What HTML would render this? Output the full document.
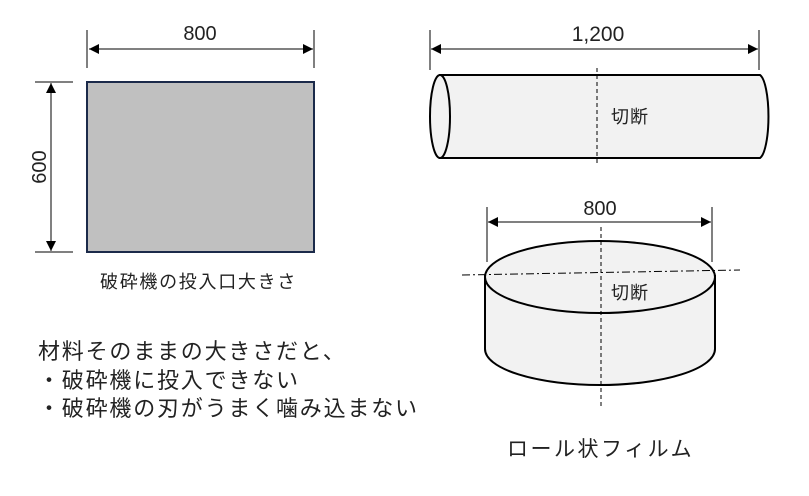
<!DOCTYPE html>
<html><head><meta charset="utf-8"><style>
body{margin:0;background:#fff;}
svg text{font-family:"Liberation Sans","Noto Sans CJK JP",sans-serif;fill:#222;}
</style></head><body>
<svg width="809" height="491" viewBox="0 0 809 491" xmlns="http://www.w3.org/2000/svg">
<defs><marker id="a" viewBox="0 0 10 10" refX="10" refY="5" markerWidth="10" markerHeight="10" markerUnits="userSpaceOnUse" orient="auto-start-reverse"><path d="M0,0L10,5L0,10z" fill="#000"/></marker></defs>
<g stroke="#000" stroke-width="1">
<line x1="87" y1="30" x2="87" y2="68"/><line x1="314" y1="30" x2="314" y2="68"/>
<line x1="89" y1="49" x2="313" y2="49" marker-start="url(#a)" marker-end="url(#a)"/>
<line x1="35" y1="82" x2="73" y2="82"/><line x1="35" y1="252" x2="73" y2="252"/>
<line x1="51" y1="83" x2="51" y2="251" marker-start="url(#a)" marker-end="url(#a)"/>
</g>
<rect x="87" y="82" width="227" height="170" fill="#c0c0c0" stroke="#1b2a4a" stroke-width="2"/>
<text x="200" y="40" font-size="20" text-anchor="middle">800</text>
<text transform="translate(46,167) rotate(-90)" font-size="20" text-anchor="middle">600</text>
<text x="100" y="288" font-size="18" letter-spacing="1.7">破砕機の投入口大きさ</text>
<g stroke="#000" stroke-width="1">
<line x1="430" y1="30" x2="430" y2="70"/><line x1="759" y1="30" x2="759" y2="70"/>
<line x1="431" y1="49" x2="758" y2="49" marker-start="url(#a)" marker-end="url(#a)"/>
</g>
<path d="M440,75 L760,75 A10,42 0 0 1 760,158 L440,158 Z" fill="#f2f2f2" stroke="#000" stroke-width="2"/>
<ellipse cx="440" cy="116.5" rx="10" ry="41.5" fill="#f2f2f2" stroke="#000" stroke-width="2"/>
<line x1="597" y1="68" x2="597" y2="166" stroke="#000" stroke-dasharray="4,3"/>
<text x="611" y="123" font-size="18" letter-spacing="1">切断</text>
<text x="598" y="41" font-size="21" text-anchor="middle">1,200</text>
<g stroke="#000" stroke-width="1">
<line x1="487" y1="207" x2="487" y2="262"/><line x1="712" y1="207" x2="712" y2="262"/>
<line x1="488" y1="222" x2="711" y2="222" marker-start="url(#a)" marker-end="url(#a)"/>
</g>
<path d="M485,276 L485,349 A115,36 0 0 0 715,349 L715,276 Z" fill="#f2f2f2" stroke="#000" stroke-width="2"/>
<ellipse cx="600" cy="277" rx="115" ry="36" fill="#f2f2f2" stroke="#000" stroke-width="2"/>
<line x1="462" y1="275" x2="740" y2="270" stroke="#000" stroke-dasharray="8,3,2,3"/>
<line x1="601" y1="227" x2="601" y2="408" stroke="#000" stroke-dasharray="4,3"/>
<text x="611" y="299" font-size="18" letter-spacing="1">切断</text>
<text x="600" y="215" font-size="20" text-anchor="middle">800</text>
<text x="38" y="359" font-size="22" letter-spacing="1.8">材料そのままの大きさだと、</text>
<text x="38" y="388" font-size="22" letter-spacing="1.8">・破砕機に投入できない</text>
<text x="38" y="416" font-size="22" letter-spacing="1.8">・破砕機の刃がうまく噛み込まない</text>
<text x="507" y="456" font-size="21" letter-spacing="2.5">ロール状フィルム</text>
</svg>
</body></html>
